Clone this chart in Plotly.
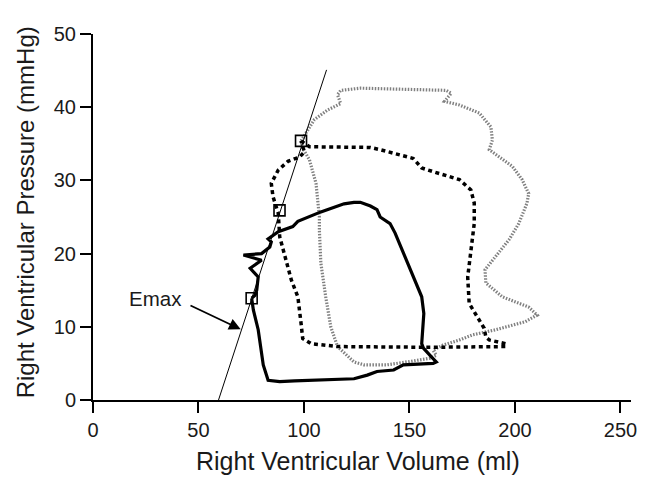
import plotly.graph_objects as go

# Solid loop (baseline)
solid_v = [75.2, 76.0, 78.3, 79.7, 80.7, 83.0, 88.5, 95.5, 123.7, 130.0, 134.6, 142.5, 147.1, 161.2, 162.7,
           160.4, 156.6, 155.8, 156.2, 156.8, 155.8, 152.5, 147.1, 143.2, 140.8, 136.1, 134.6, 131.5, 126.7,
           123.7, 119.0, 108.0, 97.1, 94.7, 87.8, 84.5, 83.0, 84.5, 83.8, 79.9, 71.3, 79.9, 74.5, 78.3, 77.6,
           76.8, 75.2]
solid_p = [13.9, 12.3, 9.6, 6.8, 4.8, 2.7, 2.5, 2.6, 2.9, 3.4, 3.9, 4.1, 4.8, 5.0, 5.2,
           5.9, 7.1, 7.7, 9.6, 11.8, 14.1, 16.4, 20.0, 22.8, 24.1, 25.0, 26.0, 26.5, 27.0,
           27.0, 26.8, 25.7, 24.4, 23.7, 23.0, 22.3, 22.0, 21.6, 20.9, 20.0, 19.8, 19.1, 18.0, 16.8, 15.0,
           14.3, 13.9]

# Heavy dotted loop
dash_v = [98.6, 102.6, 131.5, 136.1, 151.8, 155.8, 161.2, 173.7, 179.1, 180.7, 180.7, 179.1, 177.6, 178.3,
          182.4, 185.4, 186.2, 187.8, 195.6, 195.6, 159.6, 115.9, 103.4, 99.4, 98.6, 97.1, 94.0, 90.9,
          88.5, 87.8, 85.3, 84.5, 87.8, 92.4, 97.9, 100.2, 98.6]
dash_p = [35.4, 34.6, 34.5, 34.2, 33.0, 31.7, 31.2, 30.1, 28.7, 26.9, 24.1, 20.5, 16.8, 13.2,
          11.2, 9.8, 8.6, 8.2, 7.7, 7.3, 7.2, 7.3, 7.7, 8.4, 10.5, 14.1, 16.4, 20.0,
          22.3, 25.5, 27.8, 29.6, 31.4, 32.6, 33.2, 33.9, 35.4]

# Gray dotted loop
gray_v = [98.6, 104.9, 111.1, 117.4, 115.9, 117.4, 126.7, 167.4, 169.8, 166.6, 173.7, 183.1, 188.6, 189.3,
          187.8, 192.4, 198.8, 203.4, 206.5, 205.7, 201.8, 197.2, 190.9, 185.8, 186.2, 194.0, 206.5, 210.5,
          204.9, 190.9, 179.9, 173.7, 165.9, 161.2, 162.7, 159.6, 148.7, 139.3, 128.4, 123.7, 115.9, 112.7,
          110.3, 108.0, 107.3, 107.3, 105.7, 102.6, 99.4, 98.6]
gray_p = [35.4, 38.3, 39.6, 40.5, 41.7, 42.3, 42.6, 42.3, 41.9, 40.8, 40.3, 39.2, 37.3, 35.5,
          34.2, 33.2, 31.9, 30.1, 28.2, 26.9, 24.1, 21.9, 19.6, 17.8, 16.0, 14.1, 12.7, 11.6,
          10.7, 9.6, 8.9, 8.2, 7.5, 6.8, 6.1, 5.7, 5.2, 4.8, 4.8, 5.2, 7.3, 10.0,
          14.1, 18.7, 23.2, 25.0, 29.6, 32.8, 34.4, 35.4]

# Emax line and end-systolic points
emax_v = [59.5, 110.7]
emax_p = [0.0, 45.1]
es_v = [75.2, 88.4, 98.6]
es_p = [13.9, 25.9, 35.4]

x_ticks = [0, 50, 100, 150, 200, 250]
y_ticks = [0, 10, 20, 30, 40, 50]

FONT = "Liberation Sans, Arial"
TXT = "#1a1a1a"

fig = go.Figure()
fig.add_trace(go.Scatter(x=gray_v, y=gray_p, mode="lines",
                         line=dict(color="#808080", width=3.2, dash="1.5px,1.5px"), showlegend=False))
fig.add_trace(go.Scatter(x=dash_v, y=dash_p, mode="lines",
                         line=dict(color="black", width=3.5, dash="4px,3.5px"), showlegend=False))
fig.add_trace(go.Scatter(x=solid_v, y=solid_p, mode="lines",
                         line=dict(color="black", width=3.2), showlegend=False))
fig.add_trace(go.Scatter(x=emax_v, y=emax_p, mode="lines",
                         line=dict(color="black", width=1), showlegend=False))
fig.add_trace(go.Scatter(x=es_v, y=es_p, mode="markers",
                         marker=dict(symbol="square-open", size=11, color="black", line=dict(width=1.6)),
                         showlegend=False))

fig.add_annotation(x=29.8, y=13.9, text="Emax", showarrow=False,
                   font=dict(size=20.5, color=TXT, family=FONT))
fig.add_annotation(x=70.0, y=9.66, ax=45.5, ay=13.0, axref="x", ayref="y", xref="x", yref="y",
                   text="", showarrow=True, arrowhead=2, arrowsize=1.3, arrowwidth=1.8, arrowcolor="black")

# Axis titles
fig.add_annotation(x=0.493, y=-0.168, xref="paper", yref="paper", xanchor="center", yanchor="middle",
                   text="Right Ventricular Volume (ml)", showarrow=False,
                   font=dict(size=25, color=TXT, family=FONT))
fig.add_annotation(x=-0.125, y=0.512, xref="paper", yref="paper", xanchor="center", yanchor="middle",
                   text="Right Ventricular Pressure (mmHg)", textangle=-90, showarrow=False,
                   font=dict(size=24, color=TXT, family=FONT))

axis_common = dict(showline=True, linecolor="black", linewidth=2, ticks="outside", ticklen=11,
                   tickwidth=2, tickcolor="black", showgrid=False, zeroline=False,
                   tickfont=dict(size=20, color=TXT, family=FONT))

fig.update_layout(
    width=646, height=477,
    margin=dict(l=93, r=9, t=34, b=77),
    plot_bgcolor="white", paper_bgcolor="white",
    xaxis=dict(range=[0, 255], tickvals=x_ticks, **axis_common),
    yaxis=dict(range=[0, 50], tickvals=y_ticks, **axis_common),
)

fig.write_html("out.html")
